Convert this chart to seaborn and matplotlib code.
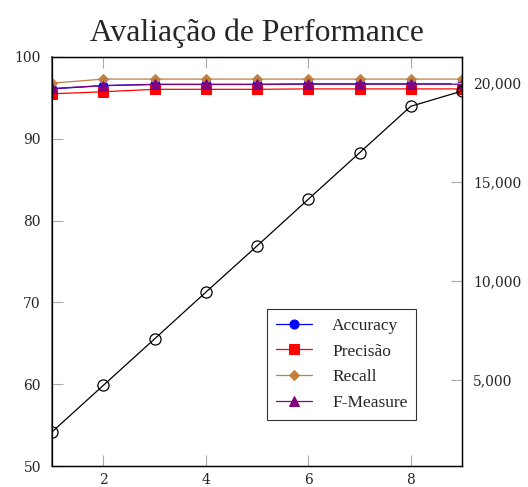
import numpy as np
import pandas as pd
import matplotlib
matplotlib.use("Agg")
import matplotlib.pyplot as plt
import seaborn as sns
from matplotlib.ticker import FuncFormatter, FixedLocator

# Evaluation rounds and metric values (%)
rounds = [1, 2, 3, 4, 5, 6, 7, 8, 9]
accuracy = [96.1, 96.5, 96.65, 96.65, 96.65, 96.7, 96.7, 96.7, 96.7]
precisao = [95.5, 95.75, 96.05, 96.05, 96.05, 96.1, 96.1, 96.1, 96.1]
recall = [96.8, 97.3, 97.3, 97.3, 97.3, 97.3, 97.3, 97.3, 97.3]
f_measure = [96.15, 96.5, 96.65, 96.65, 96.65, 96.7, 96.7, 96.7, 96.7]
# Secondary series plotted against the right axis
amostras = [2360, 4710, 7060, 9420, 11760, 14120, 16470, 18820, 19590]

x_ticks = [2, 4, 6, 8]
left_ticks = [50, 60, 70, 80, 90, 100]
right_ticks = [5000, 10000, 15000, 20000]

sns.set_style("white")
plt.rcParams["font.family"] = ["DejaVu Serif"]

fig = plt.figure(figsize=(5.28, 4.87), dpi=100)
ax = fig.add_axes([52 / 528, 1 - 466 / 487, 410 / 528, 409 / 487])
ax2 = ax.twinx()

series = [
    ("Accuracy", accuracy, "#0000ff", "o", 6.5),
    ("Precisão", precisao, "#ff0000", "s", 7.5),
    ("Recall", recall, "#bf8040", "D", 5),
    ("F-Measure", f_measure, "#800080", "^", 7),
]
for name, vals, col, mk, ms in series:
    df = pd.DataFrame({"x": rounds, "y": vals})
    sns.lineplot(data=df, x="x", y="y", ax=ax, color=col, marker=mk,
                 markersize=ms, markeredgecolor=col, linewidth=0.9,
                 label=name, legend=False)

df2 = pd.DataFrame({"x": rounds, "y": amostras})
sns.lineplot(data=df2, x="x", y="y", ax=ax2, color="black", marker="o",
             markersize=8, markerfacecolor="none", markeredgecolor="black",
             markeredgewidth=0.9, linewidth=0.9, legend=False)

ax.set_xlim(1, 9)
ax.set_ylim(50, 100)
rng = max(amostras) - min(amostras)
ax2.set_ylim(min(amostras) - 0.1 * rng, max(amostras) + 0.1 * rng)

ax.xaxis.set_major_locator(FixedLocator(x_ticks))
ax.yaxis.set_major_locator(FixedLocator(left_ticks))
ax2.yaxis.set_major_locator(FixedLocator(right_ticks))
ax2.yaxis.set_major_formatter(FuncFormatter(lambda v, p: f"{int(v):,}"))
ax.xaxis.set_major_formatter(FuncFormatter(lambda v, p: f"{int(v)}"))
ax.yaxis.set_major_formatter(FuncFormatter(lambda v, p: f"{int(v)}"))

for a in (ax, ax2):
    a.set_xlabel("")
    a.set_ylabel("")
    for s in a.spines.values():
        s.set_color("black")
        s.set_linewidth(0.9)

ax.spines["left"].set_color("#777777")
ax.spines["left"].set_linewidth(1.4)
ax.tick_params(axis="x", which="major", direction="in", length=8, width=0.8,
               color="#aaaaaa", top=True, bottom=True, labelsize=10, pad=5)
ax.tick_params(axis="y", which="major", direction="in", length=8, width=0.8,
               color="#aaaaaa", left=True, labelsize=10, pad=8)
ax2.tick_params(axis="y", which="major", direction="in", length=8, width=0.8,
                color="#aaaaaa", right=True, labelsize=10, pad=8)

fig.text(256.5 / 528, 1 - 41 / 487, "Avaliação de Performance",
         ha="center", va="baseline", fontsize=22.8, family="Liberation Serif")

handles, labels = ax.get_legend_handles_labels()
leg = fig.legend(handles, labels, loc="upper left",
                 bbox_to_anchor=(267 / 528, 1 - 309 / 487),
                 prop={"family": "Liberation Serif", "size": 12.5},
                 frameon=True, fancybox=False, handlelength=2.1,
                 labelspacing=0.55, borderpad=0.5, handletextpad=1.15,
                 borderaxespad=0)
leg.get_frame().set_edgecolor("black")
leg.get_frame().set_linewidth(0.8)

fig.savefig("out.png", dpi=100)
